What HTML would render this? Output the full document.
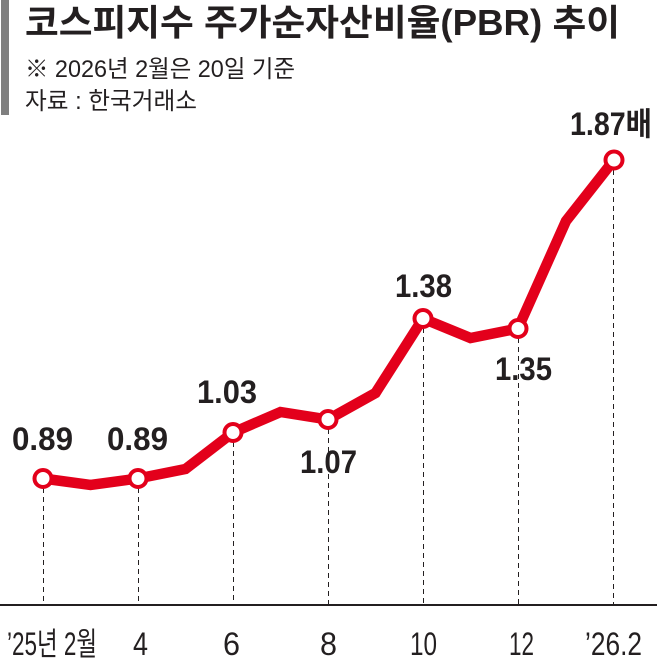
<!DOCTYPE html>
<html>
<head>
<meta charset="utf-8">
<style>
  html, body { margin:0; padding:0; background:#fff; }
  svg { display:block; }
  .t { font-family: "Liberation Sans", "Noto Sans CJK KR", "NanumGothic", sans-serif; fill:#231f20; }
  .b { font-weight:700; }
</style>
</head>
<body>
<svg width="657" height="658" viewBox="0 0 657 658" xmlns="http://www.w3.org/2000/svg">
  <rect x="0" y="0" width="657" height="658" fill="#fff"/>
  <!-- header bar -->
  <rect x="1" y="0" width="8" height="115" fill="#7f7f7f"/>
  <text class="t b" x="25" y="35" font-size="36" textLength="595" lengthAdjust="spacingAndGlyphs">코스피지수 주가순자산비율(PBR) 추이</text>
  <text class="t" x="25" y="77" font-size="24" textLength="270" lengthAdjust="spacingAndGlyphs">※ 2026년 2월은 20일 기준</text>
  <text class="t" x="25" y="109" font-size="24" textLength="172" lengthAdjust="spacingAndGlyphs">자료 : 한국거래소</text>

  <!-- dashed guide lines -->
  <g stroke="#231f20" stroke-width="1" stroke-dasharray="5,4">
    <line x1="43.5" y1="488" x2="43.5" y2="604"/>
    <line x1="138.5" y1="488" x2="138.5" y2="604"/>
    <line x1="233.5" y1="442" x2="233.5" y2="604"/>
    <line x1="328.5" y1="429" x2="328.5" y2="604"/>
    <line x1="423.5" y1="328" x2="423.5" y2="604"/>
    <line x1="518.5" y1="338" x2="518.5" y2="604"/>
    <line x1="613.5" y1="170" x2="613.5" y2="604"/>
  </g>

  <!-- axis -->
  <line x1="0" y1="605" x2="657" y2="605" stroke="#231f20" stroke-width="2"/>

  <!-- series -->
  <polyline fill="none" stroke="#e3001b" stroke-width="10.5" stroke-linejoin="miter" stroke-miterlimit="4"
    points="43,478.5 90.5,485 138,478.5 185.5,469 233,432.5 280.5,412 328,419.5 375.5,393 423,318.5 470.5,338 518,328.5 566,221 614,160"/>
  <g fill="#fff" stroke="#e3001b" stroke-width="4">
    <circle cx="43" cy="478.5" r="8.5"/>
    <circle cx="138" cy="478.5" r="8.5"/>
    <circle cx="233" cy="432.5" r="8.5"/>
    <circle cx="328" cy="419.5" r="8.5"/>
    <circle cx="423" cy="318.5" r="8.5"/>
    <circle cx="518" cy="328.5" r="8.5"/>
    <circle cx="614" cy="160" r="8.5"/>
  </g>

  <!-- data labels -->
  <g class="t b" font-size="32">
    <text x="12" y="450" textLength="61" lengthAdjust="spacingAndGlyphs">0.89</text>
    <text x="107" y="450" textLength="61" lengthAdjust="spacingAndGlyphs">0.89</text>
    <text x="197" y="403" textLength="60" lengthAdjust="spacingAndGlyphs">1.03</text>
    <text x="300" y="473" textLength="57" lengthAdjust="spacingAndGlyphs">1.07</text>
    <text x="395" y="297" textLength="57" lengthAdjust="spacingAndGlyphs">1.38</text>
    <text x="495" y="380" textLength="57" lengthAdjust="spacingAndGlyphs">1.35</text>
    <text x="570" y="135" textLength="82" lengthAdjust="spacingAndGlyphs">1.87배</text>
  </g>

  <!-- axis labels -->
  <g class="t" font-size="32">
    <text x="7" y="655" textLength="90" lengthAdjust="spacingAndGlyphs">’25년 2월</text>
    <text x="133" y="655" textLength="15" lengthAdjust="spacingAndGlyphs">4</text>
    <text x="223" y="655" textLength="17" lengthAdjust="spacingAndGlyphs">6</text>
    <text x="320" y="655" textLength="17" lengthAdjust="spacingAndGlyphs">8</text>
    <text x="410" y="655" textLength="27" lengthAdjust="spacingAndGlyphs">10</text>
    <text x="509" y="655" textLength="25" lengthAdjust="spacingAndGlyphs">12</text>
    <text x="585" y="655" textLength="57" lengthAdjust="spacingAndGlyphs">’26.2</text>
  </g>
</svg>
</body>
</html>
